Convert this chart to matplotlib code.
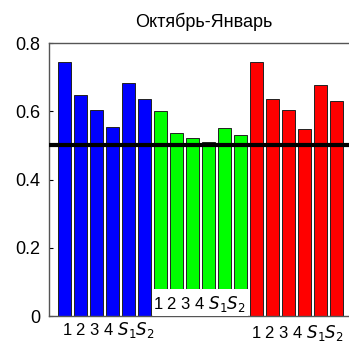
import matplotlib.pyplot as plt
from matplotlib.patches import Rectangle
from matplotlib.transforms import blended_transform_factory

plt.rcParams["font.family"] = ["Liberation Sans", "DejaVu Sans"]

title = "Октябрь-Январь"
group_labels = r"1 2 3 4 $S_1$$S_2$"
blue_vals = [0.745, 0.648, 0.604, 0.554, 0.683, 0.636]
green_vals = [0.601, 0.537, 0.522, 0.510, 0.551, 0.531]
red_vals = [0.745, 0.636, 0.604, 0.548, 0.677, 0.630]
threshold = 0.5
yticks = [0, 0.2, 0.4, 0.6, 0.8]

fig = plt.figure(figsize=(3.49, 3.42), dpi=100)
ax = fig.add_axes([0.140, 0.076, 0.869, 0.798])

groups = [(blue_vals, "#0000ff"), (green_vals, "#00ff00"), (red_vals, "#ff0000")]
pos = 1
centers = []
for vals, col in groups:
    xs = list(range(pos, pos + len(vals)))
    ax.bar(xs, vals, width=0.82, color=col, edgecolor="#222222", linewidth=0.7, zorder=2)
    centers.append((xs[0] + xs[-1]) / 2)
    pos += len(vals)

ax.axhline(threshold, color="k", lw=3, zorder=4)

ax.set_xlim(0, 19)
ax.set_ylim(0, 0.8)
ax.set_xticks([])
ax.set_yticks(yticks)
ax.set_yticklabels(["0", "0.2", "0.4", "0.6", "0.8"])
ax.tick_params(axis="y", direction="in", length=3, labelsize=13, pad=6)
for s in ax.spines.values():
    s.set_color("#555555")
    s.set_linewidth(1)

# white patch under the green group with its labels
ax.add_patch(Rectangle((6.55, 0), 5.9, 0.08, facecolor="white", edgecolor="none", zorder=3))

tr = blended_transform_factory(ax.transData, ax.transAxes)
ax.text(centers[0] + 0.2, -0.05, group_labels, transform=tr, ha="center", va="center", fontsize=12)
ax.text(centers[1] - 0.1, 0.045, group_labels, transform=tr, ha="center", va="center", fontsize=12, zorder=5)
ax.text(centers[2] + 0.05, -0.062, group_labels, transform=tr, ha="center", va="center", fontsize=12)

fig.text(0.585, 0.935, title, ha="center", va="center", fontsize=13)

fig.savefig("out.png")
